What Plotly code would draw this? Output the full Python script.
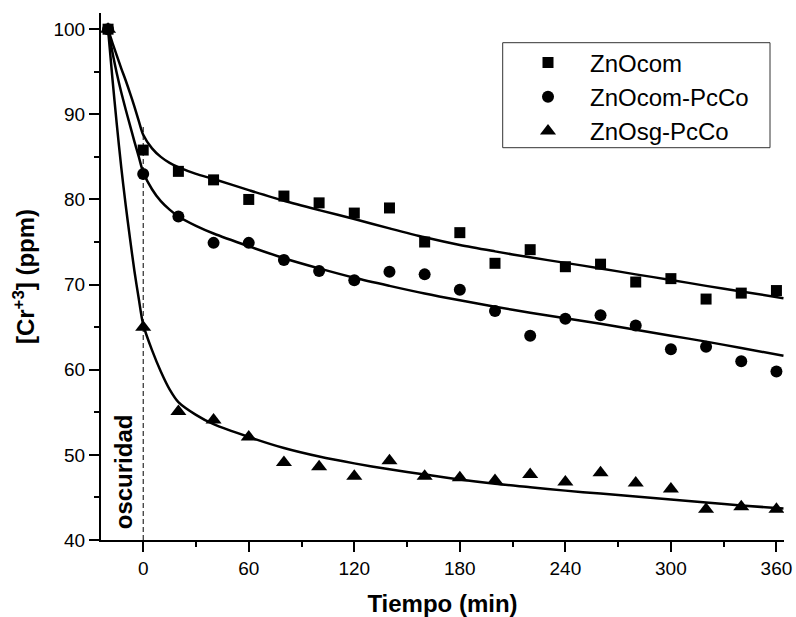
import plotly.graph_objects as go

# ---- data ----
time_min = [-20, 0, 20, 40, 60, 80, 100, 120, 140, 160, 180, 200, 220, 240, 260, 280, 300, 320, 340, 360]
znocom = [100, 85.8, 83.3, 82.3, 80.0, 80.4, 79.6, 78.4, 79.0, 75.0, 76.1, 72.5, 74.1, 72.1, 72.4, 70.3, 70.7, 68.3, 69.0, 69.3]
znocom_pcco = [100, 83.0, 78.0, 74.9, 74.9, 72.9, 71.6, 70.5, 71.5, 71.2, 69.4, 66.9, 64.0, 66.0, 66.4, 65.2, 62.4, 62.7, 61.0, 59.8]
znosg_pcco = [100, 65.0, 55.1, 54.1, 52.1, 49.1, 48.6, 47.5, 49.3, 47.5, 47.3, 47.0, 47.7, 46.8, 47.9, 46.7, 46.0, 43.6, 43.9, 43.6]

# fitted curves
fit_time = [-20, -17.5, -15, -12.5, -10, -7.5, -5, -2.5, 0, 5, 10, 15, 20, 30, 40, 60, 80, 100, 120, 140, 160,
            180, 200, 220, 240, 260, 280, 300, 320, 340, 364]
fit_znocom = [100, 98.4, 96.9, 95.4, 94.0, 92.5, 90.9, 89.2, 87.6, 86.0, 85.0, 84.3, 83.8, 83.0, 82.4, 81.1, 79.85, 78.75, 77.7, 76.6, 75.55,
              74.65, 73.9, 73.2, 72.55, 71.9, 71.2, 70.55, 69.85, 69.2, 68.4]
fit_znocom_pcco = [100, 97.3, 94.8, 92.6, 90.6, 88.7, 86.8, 85.0, 83.2, 81.2, 79.8, 78.8, 78.0, 76.9, 76.0, 74.5, 73.1, 71.9, 70.8, 69.85, 68.95,
                   68.15, 67.4, 66.7, 66.05, 65.4, 64.7, 64.0, 63.3, 62.55, 61.65]
fit_znosg_pcco = [100, 94.2, 88.8, 83.8, 79.4, 75.4, 71.6, 68.3, 65.3, 62.3, 59.8, 57.7, 56.2, 54.7, 53.6, 52.1, 50.8, 49.8, 49.0, 48.3, 47.7,
                  47.1, 46.6, 46.2, 45.8, 45.45, 45.1, 44.75, 44.4, 44.05, 43.7]

series_names = ["ZnOcom", "ZnOcom-PcCo", "ZnOsg-PcCo"]
dark_line_x = [0, 0]
dark_line_y = [40, 88.6]
dark_label = "oscuridad"
dark_label_pos = (-10.7, 48.0)

x_ticks = [0, 60, 120, 180, 240, 300, 360]
y_ticks = [40, 50, 60, 70, 80, 90, 100]

FONT = "Liberation Sans, Arial, sans-serif"

fig = go.Figure()

symbols = ["square", "circle", "triangle-up"]
sizes = [11, 12, 14]
for name, ys, sym, sz in zip(series_names, [znocom, znocom_pcco, znosg_pcco], symbols, sizes):
    fig.add_trace(go.Scatter(x=time_min, y=ys, mode="markers", name=name,
                             marker=dict(symbol=sym, size=sz, color="black", line=dict(width=0))))

for ys in [fit_znocom, fit_znocom_pcco, fit_znosg_pcco]:
    fig.add_trace(go.Scatter(x=fit_time, y=ys, mode="lines", showlegend=False,
                             line=dict(color="black", width=2.5, shape="spline", smoothing=0.8),
                             hoverinfo="skip"))

fig.add_trace(go.Scatter(x=dark_line_x, y=dark_line_y, mode="lines", showlegend=False,
                         line=dict(color="black", width=1, dash="5px,3px"), hoverinfo="skip"))

fig.add_annotation(x=dark_label_pos[0], y=dark_label_pos[1], text="<b>" + dark_label + "</b>",
                   textangle=-90, showarrow=False, font=dict(family=FONT, size=24, color="black"))

# legend frame
fig.add_shape(type="rect", xref="paper", yref="paper",
              x0=(502.7 - 101) / 683, x1=(770 - 101) / 683,
              y0=(540 - 147.7) / 527, y1=(540 - 42.7) / 527,
              line=dict(color="#333333", width=1), fillcolor="rgba(0,0,0,0)", layer="above")

fig.update_layout(
    width=796, height=617,
    margin=dict(l=101, r=12, t=13, b=77, autoexpand=False),
    paper_bgcolor="white", plot_bgcolor="white",
    font=dict(family=FONT, color="black"),
    showlegend=True,
    legend=dict(x=(506 - 101) / 683, y=(540 - 40.5) / 527, xanchor="left", yanchor="top",
                borderwidth=0, bgcolor="rgba(0,0,0,0)",
                font=dict(family=FONT, size=24, color="black"),
                itemwidth=74, tracegroupgap=0),
    xaxis=dict(range=[-24, 364.3], tickvals=x_ticks, ticks="outside", ticklen=10, tickwidth=2,
               tickcolor="black", showline=True, linewidth=2, linecolor="black", automargin=False,
               showgrid=False, zeroline=False, tickfont=dict(family=FONT, size=19, color="black"),
               minor=dict(dtick=30, tick0=0, ticks="outside", ticklen=5, tickwidth=2, tickcolor="black", showgrid=False),
               title=dict(text="<b>Tiempo (min)</b>", font=dict(family=FONT, size=24, color="black"), standoff=20)),
    yaxis=dict(range=[40, 101.9], tickvals=y_ticks, ticks="outside", ticklen=10, tickwidth=2,
               tickcolor="black", showline=True, linewidth=2, linecolor="black", automargin=False,
               showgrid=False, zeroline=False, tickfont=dict(family=FONT, size=19, color="black"),
               minor=dict(dtick=5, tick0=40, ticks="outside", ticklen=5, tickwidth=2, tickcolor="black", showgrid=False),
               title=dict(text="<b>[Cr<sup>+3</sup>] (ppm)</b>", font=dict(family=FONT, size=24, color="black"), standoff=12)),
)

fig.write_html("out.html", config={"displayModeBar": False},
               post_script="document.body.style.margin='0px';document.body.style.padding='0px';")
